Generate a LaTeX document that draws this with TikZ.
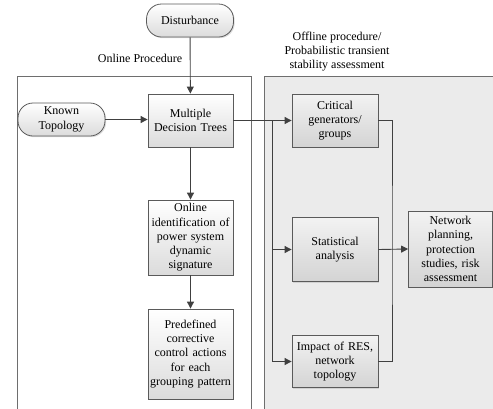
\documentclass[tikz,border=0pt]{standalone}
\usepackage{fontspec}
\setmainfont{Liberation Serif}
\usetikzlibrary{arrows.meta,shadows,calc}
\definecolor{lc}{RGB}{64,64,64}
\definecolor{bc}{RGB}{90,90,90}
\definecolor{offbg}{RGB}{235,235,235}
\definecolor{frame}{RGB}{110,110,110}
\tikzset{
  box/.style={draw=bc, line width=0.8pt, top color=white, bottom color=black!14,
    inner sep=0pt, align=center, text width=84pt,
    font=\fontsize{12}{14.3}\selectfont,
    drop shadow={shadow xshift=1.2pt, shadow yshift=-1.2pt, fill=black!30, opacity=0.45}},
  offbox/.style={box, top color=black!5, bottom color=black!17},
  term/.style={box, rounded corners=15pt},
  conn/.style={draw=lc, line width=0.9pt},
  arr/.style={conn, -{Triangle[length=7pt,width=7pt]}},
  lbl/.style={font=\fontsize{12}{14.3}\selectfont, align=center, inner sep=0pt}
}
\begin{document}
\begin{tikzpicture}[x=1pt,y=-1pt]
\useasboundingbox (0,0) rectangle (493,408);
\clip (0,0) rectangle (493,408);
% frames
\draw[draw=frame, line width=0.9pt] (17,76) rectangle (251,420);
\draw[draw=frame, line width=0.9pt, fill=offbg] (264,76) rectangle (510,420);
% labels
\node[lbl] (onl) at (140,58) {Online Procedure};
\node[lbl] (offl) at (337,51.5) {Offline procedure/\\Probabilistic transient\\stability assessment};
% nodes
\node[term, minimum width=87pt, minimum height=33pt] (dist) at (190,20.5) {Disturbance};
\node[term, minimum width=87pt, minimum height=33pt] (kt) at (61.5,119.5) {Known\\Topology};
\node[box, minimum width=85pt, minimum height=53pt] (mdt) at (190.5,120.5) {Multiple\\Decision Trees};
\node[box, minimum width=85pt, minimum height=75pt] (oi) at (190.5,237.5) {Online\\identification of\\power system\\dynamic\\signature};
\node[box, minimum width=85pt, minimum height=90pt] (pd) at (190.5,354) {Predefined\\corrective\\control actions\\for each\\grouping pattern};
\node[offbox, minimum width=86pt, minimum height=53pt] (cg) at (335,120.5) {Critical\\generators/\\groups};
\node[offbox, minimum width=86pt, minimum height=64pt] (sa) at (335,249.5) {Statistical\\analysis};
\node[offbox, minimum width=86pt, minimum height=52pt] (ir) at (335,361.5) {Impact of RES,\\network\\topology};
\node[offbox, minimum width=83pt, minimum height=76pt] (np) at (450.5,249) {Network\\planning,\\protection\\studies, risk\\assessment};
% connectors
\draw[arr] (dist) -- (mdt);
\draw[arr] (kt.east) -- (kt.east -| mdt.west);
\draw[arr] (mdt) -- (oi);
\draw[arr] (oi) -- (pd);
\draw[arr] (mdt.east) -- (cg.west);
\coordinate (br) at (272,120.5);
\draw[arr] (br) |- (ir.west);
\draw[arr] (br |- sa.west) -- (sa.west);
\coordinate (rc) at (392,249.5);
\draw[conn] (cg.east) -| (rc) |- (ir.east);
\draw[arr] (sa.east) -- (np.west);
\end{tikzpicture}
\end{document}
